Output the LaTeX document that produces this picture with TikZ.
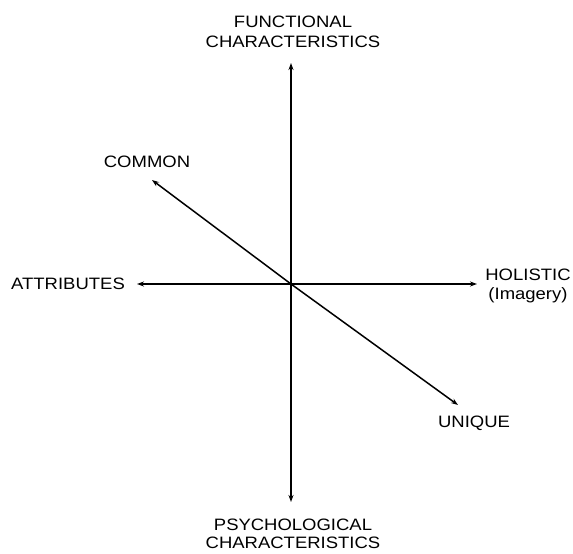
\documentclass[tikz,border=0pt]{standalone}
\usepackage{fontspec}
\setmainfont[FakeStretch=1.12]{Liberation Sans}
\usetikzlibrary{arrows.meta}
\begin{document}
\begin{tikzpicture}[x=1pt,y=-1pt,
  axis/.style={line width=1.5pt,-{Stealth[length=7pt,width=5pt]}},
  lbl/.style={inner sep=0pt,font=\fontsize{16.5}{19.5}\selectfont,align=center}]
\useasboundingbox[fill=white] (0,0) rectangle (573,554);
\coordinate (O) at (291,284);
\coordinate (top) at (291,63);
\coordinate (bot) at (291,502);
\coordinate (lft) at (137,284);
\coordinate (rgt) at (477,284);
\coordinate (cmn) at (152,180);
\coordinate (unq) at (458,405);
\draw[axis] (O) -- (top);
\draw[axis] (O) -- (bot);
\draw[axis] (O) -- (lft);
\draw[axis] (O) -- (rgt);
\draw[axis] (O) -- (cmn);
\draw[axis] (O) -- (unq);
\node[lbl] (func) at (293,32) {FUNCTIONAL\\CHARACTERISTICS};
\node[lbl,font=\fontsize{16.5}{17.5}\selectfont] (psy) at (293,534) {PSYCHOLOGICAL\\CHARACTERISTICS};
\node[lbl,anchor=west] (attr) at (11,284) {ATTRIBUTES};
\node[lbl] (hol) at (528,286) {HOLISTIC\\(Imagery)};
\node[lbl] (com) at (147,162) {COMMON};
\node[lbl] (uni) at (474,423) {UNIQUE};
\end{tikzpicture}
\end{document}
